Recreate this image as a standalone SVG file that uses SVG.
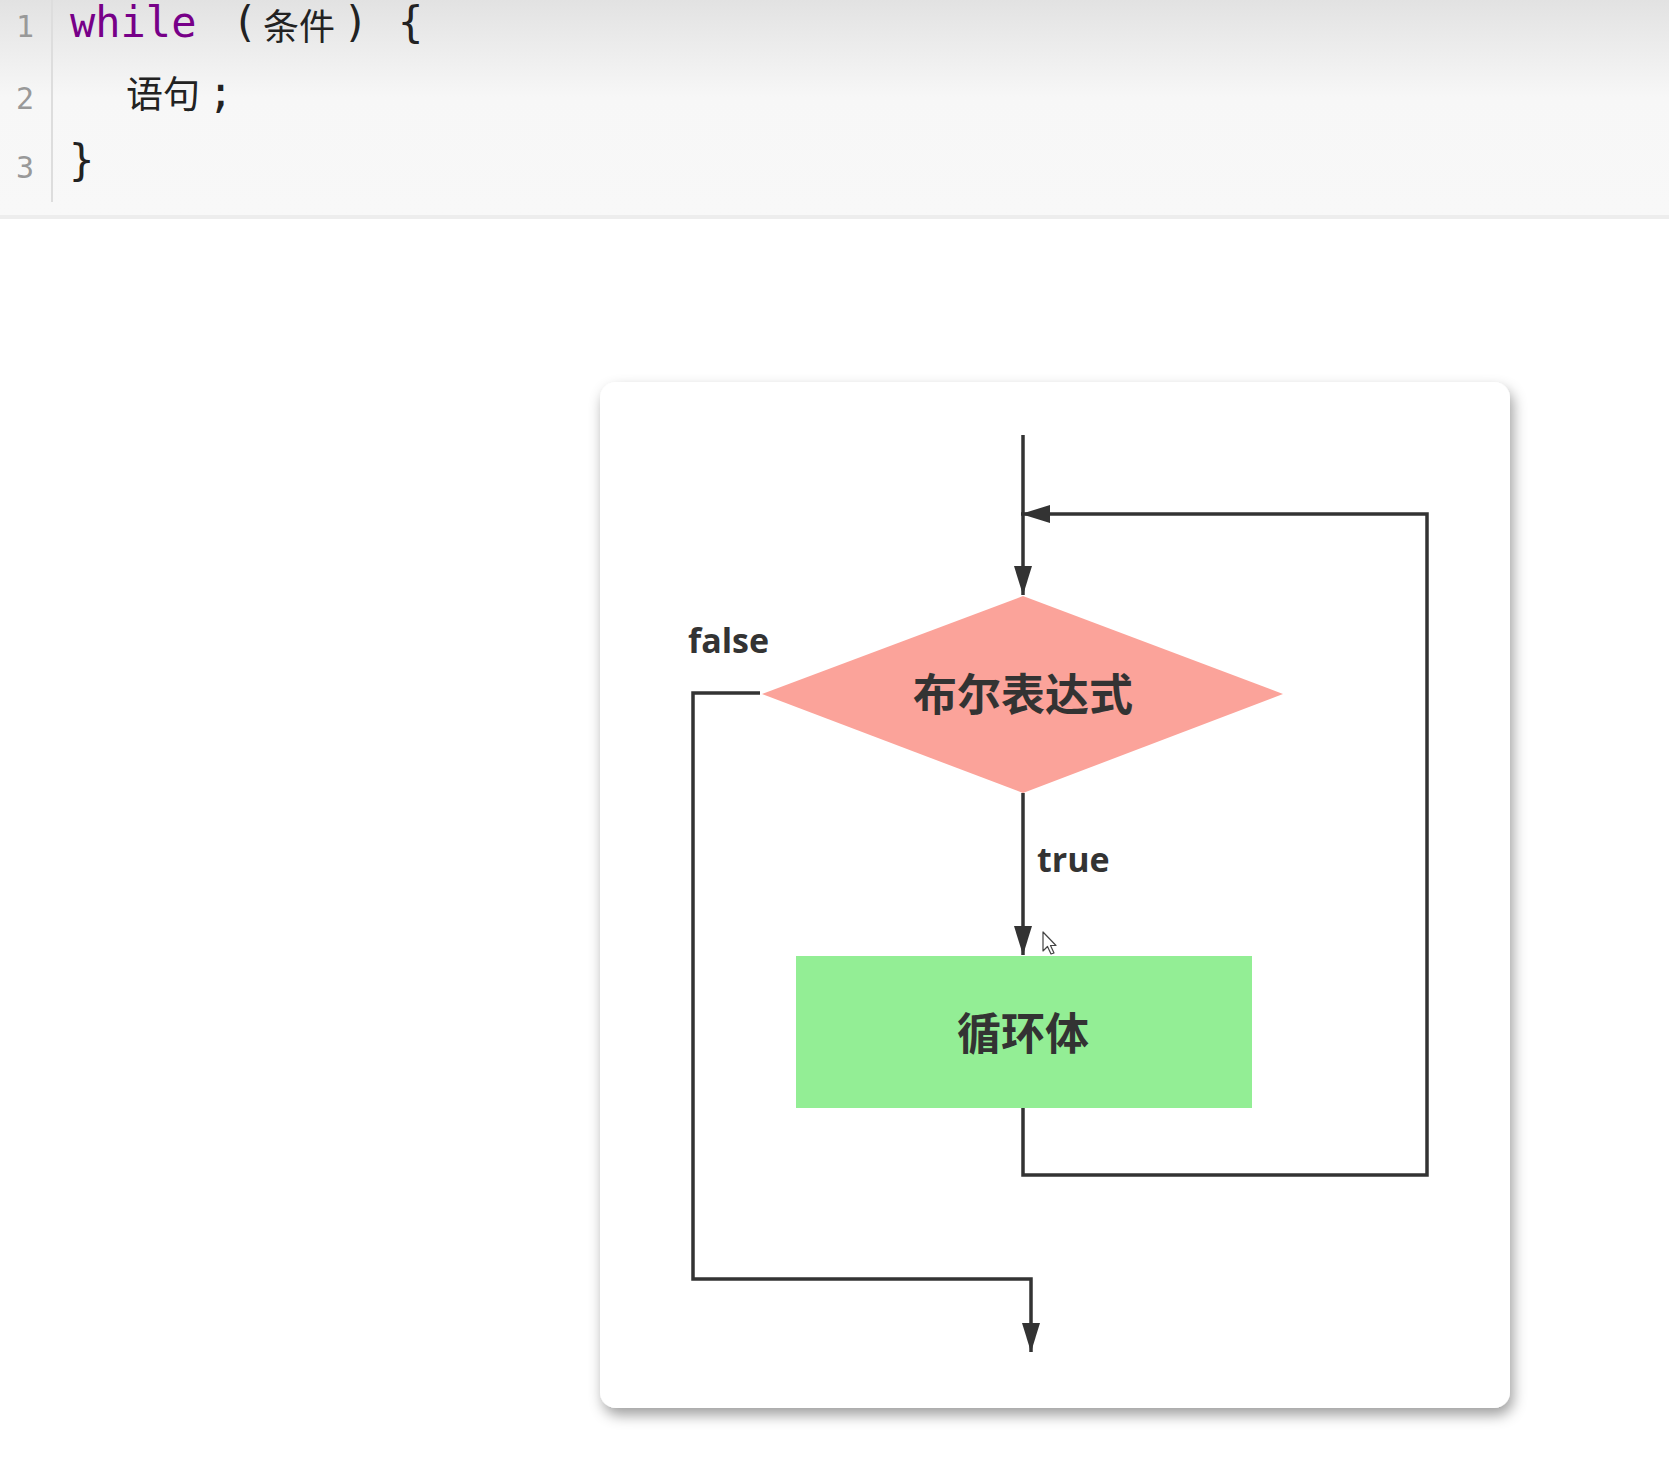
<svg xmlns="http://www.w3.org/2000/svg" width="1669" height="1467" viewBox="0 0 1669 1467">
<defs>
<linearGradient id="codebg" x1="0" y1="0" x2="0" y2="1">
<stop offset="0" stop-color="#e2e2e2"/>
<stop offset="0.45" stop-color="#f7f7f7"/>
<stop offset="1" stop-color="#f8f8f8"/>
</linearGradient>
<filter id="shadow" x="-10%" y="-10%" width="120%" height="120%">
<feDropShadow dx="3" dy="7" stdDeviation="7" flood-color="#000" flood-opacity="0.38"/>
</filter>
<marker id="arrow" viewBox="0 0 29 18" refX="29" refY="9" markerWidth="29" markerHeight="18" markerUnits="userSpaceOnUse" orient="auto">
<path d="M0,0 L29,9 L0,18 z" fill="#333"/>
</marker>
</defs>
<style>
.ln{font-family:"DejaVu Sans Mono","Liberation Mono",monospace;font-size:30px;fill:#999}
.code{font-family:"DejaVu Sans Mono","Liberation Mono","Noto Sans CJK SC",monospace;font-size:42px;fill:#222}
.cjk{font-family:"Noto Sans CJK SC",sans-serif;font-size:37px;fill:#222}
.cjk1{font-size:36px}
.kw{fill:#770088}
.lbl{font-family:"Open Sans","Liberation Sans",sans-serif;font-weight:700;font-size:34px;fill:#333}
.node{font-family:"Noto Sans CJK SC",sans-serif;font-weight:700;font-size:44px;fill:#333}
.edge{fill:none;stroke:#333;stroke-width:3.5;stroke-linejoin:miter}
</style>
<rect width="1669" height="1467" fill="#ffffff"/>
<g id="code-block">
<rect x="0" y="0" width="1669" height="216" fill="url(#codebg)"/>
<rect x="0" y="215" width="1669" height="4" fill="#ededed"/>
<line x1="52" y1="0" x2="52" y2="202" stroke="#dddddd" stroke-width="2"/>
<text class="ln" x="34" y="37" text-anchor="end">1</text>
<text class="ln" x="34" y="109" text-anchor="end">2</text>
<text class="ln" x="34" y="178" text-anchor="end">3</text>
<text class="code kw" x="70" y="37">while</text>
<text class="code" x="232" y="37">(</text>
<text class="cjk cjk1" x="263" y="40">条件</text>
<text class="code" x="343" y="37">)</text>
<text class="code" x="398" y="37">{</text>
<text class="cjk" x="126" y="108">语句</text>
<text class="code" x="208" y="107">;</text>
<text class="code" x="69" y="175">}</text>
</g>
<g id="card">
<rect x="600" y="382" width="910" height="1026" rx="16" fill="#ffffff" filter="url(#shadow)"/>
</g>
<g id="connectors">
<path class="edge" d="M1023,435 V595" marker-end="url(#arrow)"/>
<path class="edge" d="M1023,793 V955" marker-end="url(#arrow)"/>
<path class="edge" d="M1023,1108 V1175 H1427 V514 H1021" marker-end="url(#arrow)"/>
<path class="edge" d="M760,693 H693 V1279 H1031 V1352" marker-end="url(#arrow)"/>
<text class="lbl" x="688" y="653">false</text>
<text class="lbl" x="1037" y="872">true</text>
</g>
<g id="node-condition">
<polygon points="1023,596 1283,694 1023,793 762,694" fill="#fba39a"/>
<text class="node" x="1023" y="711" text-anchor="middle">布尔表达式</text>
</g>
<g id="node-body">
<rect x="796" y="956" width="456" height="152" fill="#93ee95"/>
<text class="node" x="1023" y="1050" text-anchor="middle">循环体</text>
</g>
<g id="cursor">
<path d="M1043,932 L1043,951 L1047.5,946.5 L1051,954 L1054,953 L1050.5,945.5 L1056,945.5 z" fill="#ffffff" stroke="#444" stroke-width="1.2" stroke-linejoin="round"/>
</g>
</svg>
